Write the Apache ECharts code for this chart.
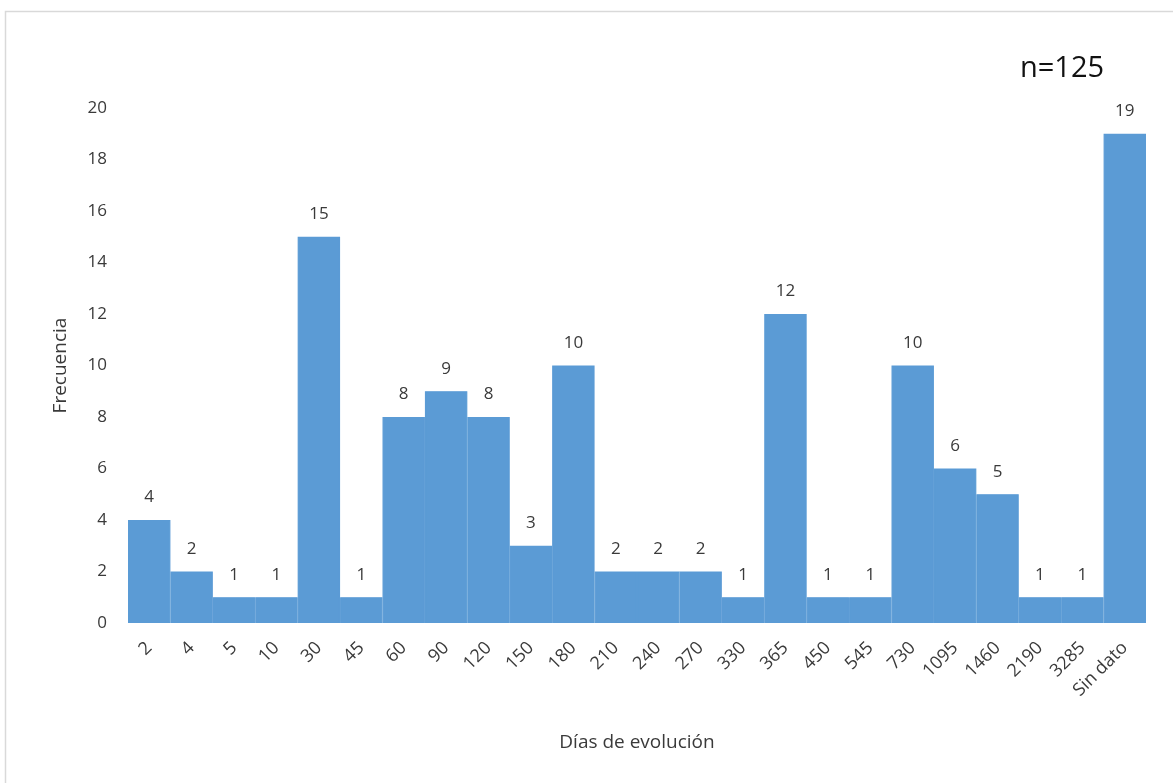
<!DOCTYPE html>
<html>
<head>
<meta charset="utf-8">
<script src="https://cdn.jsdelivr.net/npm/echarts@6/dist/echarts.min.js"></script>
<style>
  html, body { margin: 0; padding: 0; background: #fff; }
  #chart { width: 1173px; height: 783px; }
</style>
</head>
<body>
<div id="chart"></div>
<script>
// Días de evolución (categories) and their frequencies
const categories = ['2', '4', '5', '10', '30', '45', '60', '90', '120', '150', '180', '210', '240', '270', '330', '365', '450', '545', '730', '1095', '1460', '2190', '3285', 'Sin dato'];
const frequencies = [4, 2, 1, 1, 15, 1, 8, 9, 8, 3, 10, 2, 2, 2, 1, 12, 1, 1, 10, 6, 5, 1, 1, 19];
const yTicks = { min: 0, max: 20, interval: 2 };
const sampleNote = 'n=125';

const textColor = '#3a3a3a';
const barColor = '#5b9bd5';
const fontFamily = 'Open Sans, Noto Sans, Liberation Sans, sans-serif';

const chart = echarts.init(document.getElementById('chart'));
chart.setOption({
  animation: false,
  backgroundColor: '#ffffff',
  grid: { left: 128, right: 27, top: 108, bottom: 160, containLabel: false },
  graphic: [
    {
      type: 'rect',
      left: 3, top: 9,
      shape: { width: 1200, height: 800 },
      style: { fill: 'none', stroke: '#d9d9d9', lineWidth: 1.5 },
      silent: true
    },
    {
      type: 'text',
      left: 1020, top: 54,
      style: { text: sampleNote, font: '29px ' + fontFamily, fill: '#111' }
    }
  ],
  xAxis: {
    type: 'category',
    data: categories,
    name: 'Días de evolución',
    nameLocation: 'middle',
    nameGap: 110,
    nameTextStyle: { fontSize: 19, color: textColor, fontFamily },
    axisLine: { show: false },
    axisTick: { show: false },
    axisLabel: { rotate: 45, fontSize: 18, color: textColor, fontFamily, margin: 22, interval: 0 }
  },
  yAxis: {
    type: 'value',
    min: yTicks.min, max: yTicks.max, interval: yTicks.interval,
    name: 'Frecuencia',
    nameLocation: 'middle',
    nameGap: 58,
    nameTextStyle: { fontSize: 19, color: textColor, fontFamily },
    axisLine: { show: false },
    axisTick: { show: false },
    splitLine: { show: false },
    axisLabel: { fontSize: 17, color: textColor, fontFamily, margin: 21 }
  },
  series: [{
    type: 'bar',
    data: frequencies,
    barCategoryGap: '0%',
    itemStyle: { color: barColor, borderColor: barColor, borderWidth: 1.2 },
    label: {
      show: true,
      position: 'top',
      distance: 14,
      fontSize: 17,
      color: textColor,
      fontFamily
    }
  }]
});
</script>
</body>
</html>
